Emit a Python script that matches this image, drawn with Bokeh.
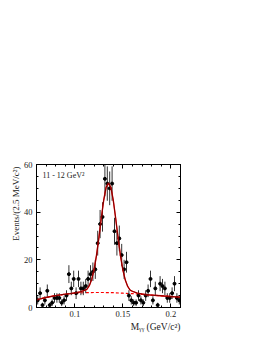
import numpy as np
from bokeh.plotting import figure
from bokeh.models import (LinearAxis, SingleIntervalTicker, NumeralTickFormatter,
                          Label, ColumnDataSource, Range1d, Title)
from bokeh.embed import file_html
from bokeh.resources import INLINE

# ---------------- data ----------------
bin_lo = 0.06
bin_hi = 0.21
bin_width = 0.0025
counts = [3, 6, 1, 3, 7, 1, 2, 4, 4, 4,
          2, 3, 5, 14, 8, 12, 6, 12, 8, 8,
          9, 12, 14, 15, 16, 27, 35, 38, 54, 52,
          50, 52, 32, 27, 29, 22, 16, 19, 5, 3,
          2, 2, 5, 3, 2, 5, 7, 12, 3, 8,
          1, 10, 9, 8, 4, 4, 6, 10, 4, 3]

fit_x = [0.06, 0.065, 0.07, 0.075, 0.08, 0.085, 0.09, 0.095, 0.10, 0.105,
         0.11, 0.1125, 0.115, 0.1175, 0.12, 0.1225, 0.125, 0.1275, 0.13, 0.1325,
         0.135, 0.1375, 0.14, 0.1425, 0.145, 0.1475, 0.15, 0.1525, 0.155, 0.1575,
         0.16, 0.165, 0.17, 0.175, 0.18, 0.185, 0.19, 0.195, 0.2, 0.205, 0.21]
fit_total = [3.2, 3.7, 4.2, 4.6, 5.0, 5.3, 5.6, 5.8, 6.15, 6.5,
             7.2, 7.65, 9.15, 11.8, 16.0, 21.9, 29.3, 37.5, 45.0, 50.4,
             52.25, 50.35, 44.9, 37.35, 29.1, 21.65, 15.7, 11.5, 8.85, 7.3,
             6.8, 6.05, 5.65, 5.35, 5.2, 5.05, 4.9, 4.75, 4.6, 4.45, 4.3]

bg_x = [0.06, 0.07, 0.08, 0.09, 0.10, 0.11, 0.12, 0.13, 0.14, 0.15,
        0.16, 0.17, 0.18, 0.19, 0.20, 0.21]
bg_y = [3.2, 4.2, 5.0, 5.6, 6.0, 6.2, 6.3, 6.3, 6.2, 6.0,
        5.8, 5.5, 5.2, 4.9, 4.6, 4.3]

y_lo, y_hi = 0, 60
x_major = 0.05
y_major = 20
y_title = "Events/(2.5 MeV/c\u00b2)"
x_title = "M\u1d67\u1d67 (GeV/c\u00b2)"
inset_text = "11 - 12 GeV\u00b2"

# ---------------- derived ----------------
cnt = np.array(counts, dtype=float)
xc = bin_lo + bin_width * (np.arange(len(counts)) + 0.5)
err = np.sqrt(cnt)
src = ColumnDataSource(dict(x=xc, y=cnt, lo=cnt - err, hi=cnt + err,
                            xl=xc - bin_width / 2, xr=xc + bin_width / 2))

FONT = "Liberation Serif"
TXT = "#222222"

p = figure(width=258, height=340,
           x_range=Range1d(bin_lo, bin_hi), y_range=Range1d(y_lo, y_hi),
           output_backend="svg", toolbar_location=None,
           min_border_left=36, min_border_right=78,
           min_border_top=164, min_border_bottom=33)
p.grid.visible = False
p.outline_line_color = "black"
p.outline_line_width = 1
p.outline_line_alpha = 1
p.background_fill_color = "white"
p.border_fill_color = "white"

xt = SingleIntervalTicker(interval=x_major, num_minor_ticks=5)
yt = SingleIntervalTicker(interval=y_major, num_minor_ticks=4)

bottom = p.xaxis[0]
left = p.yaxis[0]
bottom.ticker = xt
left.ticker = yt
bottom.formatter = NumeralTickFormatter(format="0.0[0]")

top = LinearAxis(ticker=xt)
right = LinearAxis(ticker=yt)
p.add_layout(top, "above")
p.add_layout(right, "right")

for ax in [bottom, left, top, right]:
    ax.major_tick_in = 4
    ax.major_tick_out = 0
    ax.minor_tick_in = 2
    ax.minor_tick_out = 0
    ax.axis_line_color = "black"
    ax.major_tick_line_color = "black"
    ax.minor_tick_line_color = "black"
    ax.major_label_text_font = FONT
    ax.major_label_text_font_size = "8.5px"
    ax.major_label_text_color = TXT

for ax in [top, right]:
    ax.major_label_text_color = None

bottom.major_label_standoff = 3
left.major_label_standoff = 4

# axis titles as side-panel titles (right-aligned like ROOT)
p.add_layout(Title(text=y_title, align="right", offset=2, standoff=0,
                   text_font=FONT, text_font_size="9px", text_font_style="normal",
                   text_color=TXT), "left")
p.add_layout(Title(text=x_title, align="right", offset=0, standoff=0,
                   text_font=FONT, text_font_size="9.5px", text_font_style="normal",
                   text_color=TXT), "below")

# background (dashed red)
p.line(bg_x, bg_y, line_color="red", line_width=1.2, line_dash="3 2")

# data with error bars
p.segment(x0="x", y0="lo", x1="x", y1="hi", source=src, line_color="#333333", line_width=1)
p.segment(x0="xl", y0="y", x1="xr", y1="y", source=src, line_color="#333333", line_width=1)
p.scatter(x="x", y="y", source=src, size=3, color="black", marker="circle")

# total fit
p.line(fit_x, fit_total, line_color="red", line_width=1.4)
p.line(fit_x, fit_total, line_color="#400000", line_width=0.7)

p.add_layout(Label(x=6, y=132, x_units="screen", y_units="screen",
                   text=inset_text, text_align="left", text_baseline="middle",
                   text_font=FONT, text_font_size="8px", text_color=TXT))

open("out.html", "w").write(file_html(p, INLINE))
